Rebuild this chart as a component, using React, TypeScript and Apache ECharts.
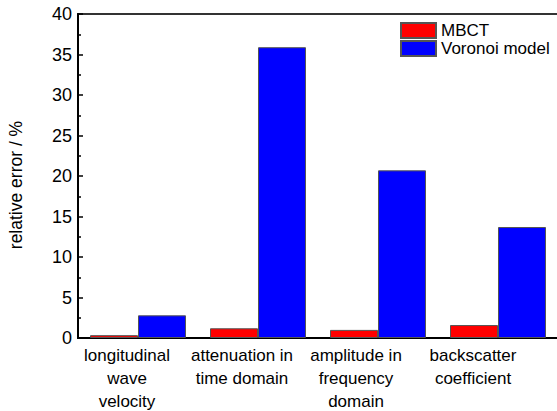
import React, { useEffect, useRef } from "react";
import * as echarts from "echarts";

const categories = [
  "longitudinal\nwave\nvelocity",
  "attenuation in\ntime domain",
  "amplitude in\nfrequency\ndomain",
  "backscatter\ncoefficient",
];
const labelShift = [22, 32, 44, 50];
const mbct = [0.35, 1.2, 1.0, 1.6];
const voronoi = [2.8, 35.9, 20.7, 13.7];

export default function App() {
  const ref = useRef<HTMLDivElement>(null);
  useEffect(() => {
    if (!ref.current) return;
    const chart = echarts.init(ref.current, undefined, { renderer: "svg" });
    const font = "'Liberation Sans', Arial, sans-serif";
    chart.setOption({
      animation: false,
      backgroundColor: "#ffffff",
      textStyle: { fontFamily: font, color: "#000" },
      grid: {
        left: 78,
        right: -1,
        top: 14,
        bottom: 73,
        outerBoundsMode: "none",
        containLabel: false,
        show: true,
        borderColor: "#333",
        borderWidth: 2,
        backgroundColor: "transparent",
      },
      legend: {
        left: 400,
        top: 22,
        padding: 0,
        orient: "vertical",
        itemWidth: 35,
        itemHeight: 15,
        itemGap: 1,
        icon: "rect",
        textStyle: { fontSize: 17, fontFamily: font, color: "#000", lineHeight: 15 },
        data: ["MBCT", "Voronoi model"],
      },
      xAxis: {
        type: "category",
        data: categories.map((c, i) => ({
          value: c,
          textStyle: { padding: [0, labelShift[i], 0, 0] },
        })),
        axisLine: { lineStyle: { color: "#000", width: 2 } },
        axisTick: { show: false },
        axisLabel: {
          fontSize: 17,
          lineHeight: 23,
          margin: 6,
          color: "#000",
          fontFamily: font,
          interval: 0,
        },
      },
      yAxis: {
        type: "value",
        min: 0,
        max: 40,
        interval: 5,
        name: "relative error / %",
        nameLocation: "middle",
        nameGap: 53,
        nameTextStyle: { fontSize: 17.5, color: "#000", fontFamily: font, padding: [0, 18, 0, 0] },
        axisLine: { show: true, lineStyle: { color: "#000", width: 2 } },
        axisTick: { show: true, inside: true, length: 5, lineStyle: { color: "#000", width: 1.5 } },
        minorTick: { show: true, splitNumber: 2, length: 3, lineStyle: { color: "#000", width: 1.5 } },
        splitLine: { show: false },
        axisLabel: { fontSize: 18, color: "#000", margin: 6, fontFamily: font },
      },
      series: [
        {
          name: "MBCT",
          type: "bar",
          data: mbct,
          barWidth: 48,
          barGap: "0%",
          itemStyle: { color: "#ff0000", borderColor: "#555", borderWidth: 1 },
        },
        {
          name: "Voronoi model",
          type: "bar",
          data: voronoi,
          barWidth: 48,
          barGap: "0%",
          itemStyle: { color: "#0000ff", borderColor: "#555", borderWidth: 1 },
        },
      ],
    });
    return () => chart.dispose();
  }, []);
  return (
    <div
      ref={ref}
      style={{ position: "fixed", left: 0, top: 0, width: 557, height: 411 }}
    />
  );
}
